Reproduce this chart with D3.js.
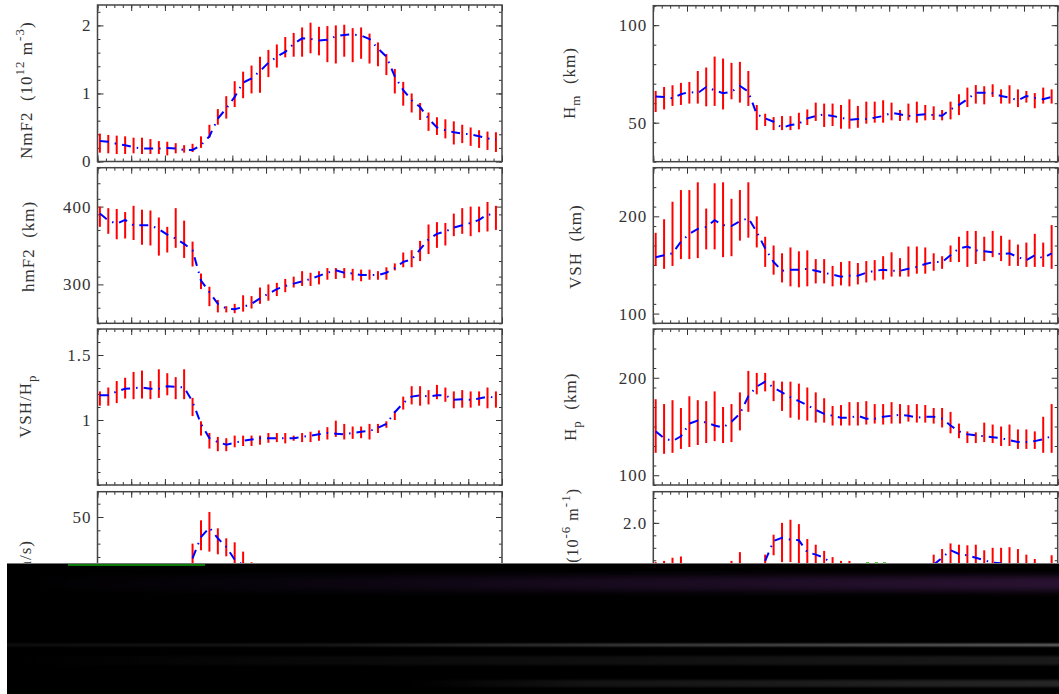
<!DOCTYPE html>
<html>
<head>
<meta charset="utf-8">
<script src="https://cdn.jsdelivr.net/npm/d3@7"></script>
<style>
  html, body { margin: 0; background: #fff; overflow: hidden; }
  text { font-family: "Liberation Serif", serif; fill: #333; letter-spacing: 1px; }
</style>
</head>
<body>
<div id="chart"></div>
<script>
// half hour bins, local time
const hours = d3.range(48).map(function(i) { return 0.14 + 0.5 * i; });

const nmf2Mean = [.30,.29,.26,.24,.21,.19,.19,.19,.20,.19,.17,.17,.24,.37,.63,.78,.95,1.16,1.22,1.33,1.45,1.54,1.61,1.73,1.81,1.80,1.78,1.79,1.84,1.86,1.87,1.85,1.80,1.66,1.54,1.25,1.05,.90,.80,.63,.50,.46,.43,.41,.40,.37,.34,.32];
const nmf2High = [.41,.39,.38,.37,.35,.35,.33,.30,.29,.27,.24,.26,.37,.54,.77,.96,1.18,1.32,1.41,1.54,1.64,1.72,1.83,1.89,1.97,2.04,1.98,1.99,2.00,2.01,1.96,1.97,1.88,1.75,1.58,1.36,1.17,1.00,.86,.72,.65,.62,.59,.54,.50,.46,.44,.43];
const nmf2Low = [.13,.12,.11,.11,.12,.11,.11,.11,.09,.12,.13,.14,.20,.35,.54,.63,.80,.93,1.00,1.01,1.24,1.38,1.53,1.54,1.54,1.59,1.56,1.46,1.44,1.54,1.46,1.51,1.44,1.40,1.27,1.00,.82,.72,.61,.45,.39,.34,.25,.27,.23,.20,.17,.14];

const hmf2Mean = [391,382,378,383,376,376,376,371,364,359,352,344,305,290,275,269,268,271,275,282,288,294,298,301,304,307,311,315,318,315,314,312,312,312,315,321,329,332,345,358,365,368,373,376,379,383,390,389];
const hmf2High = [400,398,397,393,401,396,395,386,374,398,382,355,314,297,280,272,275,286,285,296,300,302,307,310,317,315,317,321,321,321,320,319,319,317,322,327,341,344,356,377,380,379,391,398,400,400,406,401];
const hmf2Low = [374,365,358,359,357,351,350,337,341,347,334,323,294,272,264,264,263,265,269,275,279,285,290,296,298,298,300,306,307,308,305,304,306,306,306,318,322,322,330,339,347,350,362,365,362,367,368,370];

const ratioMean = [1.19,1.19,1.22,1.24,1.245,1.25,1.24,1.24,1.26,1.255,1.25,1.14,.97,.86,.83,.81,.825,.84,.85,.86,.86,.86,.86,.86,.87,.88,.89,.90,.895,.89,.90,.91,.915,.94,.97,1.06,1.13,1.18,1.19,1.18,1.19,1.19,1.155,1.16,1.155,1.165,1.18,1.17];
const ratioHigh = [1.22,1.25,1.30,1.325,1.37,1.38,1.30,1.39,1.36,1.33,1.39,1.17,.99,.90,.87,.86,.88,.88,.88,.88,.90,.90,.90,.88,.90,.91,.92,.945,.995,.97,.95,.95,.97,.97,.99,1.07,1.18,1.26,1.26,1.23,1.27,1.25,1.22,1.23,1.22,1.22,1.25,1.22];
const ratioLow = [1.11,1.11,1.13,1.165,1.16,1.165,1.16,1.17,1.19,1.16,1.16,1.03,.88,.78,.76,.76,.79,.80,.80,.81,.825,.83,.82,.84,.83,.83,.84,.85,.87,.85,.855,.86,.85,.90,.94,1.00,1.08,1.12,1.11,1.12,1.16,1.14,1.09,1.095,1.095,1.11,1.09,1.095];

// only the part above the black strip can be read for these two
const driftBins = [11,12,13,14,15,16,17,18];
const driftMean = [19,35,42,34,27.4,18,14,8];
const driftHigh = [30,47.5,53.8,41.5,34,31,24,16];
const driftLow = [10,25,24,22,20.5,8,4,0];

const hmMean = [63.4,63.2,62.5,64.6,65.8,65.2,68.3,66.6,65.1,65.9,68.8,65.9,54.3,52.2,50.5,47.4,48.8,49.5,52.2,53.4,54.3,53.4,52.6,51.5,51.9,51.9,52.6,53.4,55.1,54.3,53.4,53.9,54.3,53.9,53.6,56.8,59.1,62,65.4,65.4,65.1,63.7,62.8,61.5,63.7,62.8,62,63.2];
const hmHigh = [66.3,68.3,69.2,70.4,70.9,76.5,78.3,83.9,82.9,80.7,81.2,76.5,59.1,54.6,52.9,53.4,53.4,55.1,56.8,60.3,59.8,59.8,59.1,62,58.6,60.8,60.8,61.5,60.3,56.5,59.8,60.8,59.1,58.4,56.5,60.8,64.6,68,69.3,68.7,69.7,67.1,69.2,67.1,66.3,65.2,68,67.1];
const hmLow = [55.5,56.8,58.6,59.1,59.8,59.8,58.4,58.6,56.8,62,60.3,58.6,46.2,48.3,46.2,46.2,46.2,46.6,48.8,50.9,47.8,48.3,46.9,46.9,47.4,49.5,50,50,51.2,50.9,51.2,50,51.2,51.4,51.2,51.7,53.9,58,59.8,59.4,63.2,59.8,59.8,58,60.3,57.4,59.8,59.8];

const vshMean = [158,160,162,174,182,187,189,196,191,190,195,198,184,167,153,144,145,145,146,144,142,140,138,139,139,142,144,145,144,144,146,148,151,153,153,160,167,169,165,164,163,161,162,158,155,160,157,162];
const vshHigh = [183,197,215,227,227,235,208,234,235,218,227,235,200,179,170,162,168,164,165,156,156,149,153,154,152,154,155,159,163,157,169,169,168,162,159,170,179,185,185,179,185,180,176,171,173,182,173,191];
const vshLow = [149,146,149,156,156,157,166,166,158,159,175,178,168,148,140,132,128,127,128,131,131,128,129,128,130,132,134,135,138,138,138,141,141,144,146,153,153,148,151,154,158,154,149,149,148,148,148,146];

const hpMean = [145,138,135,140,153,156,154,151,149,155,163,181,191,196,190,185,180,176,172,167,163,161,159,159,161,158,158,160,161,162,161,159,160,160,158,151,145,142,141,140,139,138,136,134,134,135,137,140];
const hpHigh = [178,173,177,169,181,177,176,186,170,173,185,207,205,205,197,196,196,194,190,185,179,171,172,175,175,176,173,173,175,173,172,173,172,169,169,165,153,145,144,154,152,150,152,147,147,145,160,173];
const hpLow = [123,122,123,127,129,131,133,135,133,134,146,165,183,186,176,166,159,157,156,154,154,151,151,151,151,152,153,152,153,153,155,154,154,153,149,143,138,133,133,134,133,130,130,127,127,127,123,123];

const gradBins = [0,1,2,3,9,10,13,14,15,16,17,18,19,20,21,22,23,33,34,35,36,37,38,39,40,41,42,43,44,45,47];
const gradMean = [null,null,null,null,null,null,1.39,1.71,1.76,1.73,1.72,1.53,1.49,1.44,1.33,null,null,1.33,1.44,1.56,1.50,1.48,1.44,1.40,1.36,1.35,null,null,null,null,null];
const gradHigh = [1.37,1.39,1.44,1.46,1.39,1.53,1.49,1.81,2.0,2.05,1.98,1.74,1.65,1.55,1.45,1.39,1.39,1.49,1.58,1.67,1.65,1.64,1.65,1.56,1.60,1.60,1.61,1.58,1.49,1.42,1.48];
const gradLow = [1.1,1.1,1.1,1.1,1.1,1.1,1.2,1.48,1.37,1.37,1.25,1.2,1.2,1.2,1.1,1.1,1.1,1.1,1.2,1.2,1.2,1.2,1.2,1.2,1.1,1.1,1.1,1.1,1.1,1.1,1.1];

const width = 1059, height = 694;

var svg = d3.select("#chart").append("svg")
    .attr("width", width)
    .attr("height", height);

/* Title pieces: text, baseline shift, font size */
const S = 13, N = 17;
var panels = [
  { col: 0, top: 5, bottom: 161.5, domain: [0, 2.3], major: [0, 1, 2], minor: 0.2, fmt: d3.format("d"),
    mean: nmf2Mean, high: nmf2High, low: nmf2Low,
    titleX: 32, titleY: 159, anchor: "start",
    title: [["NmF2  (10", 0, N], ["12", -8, S], [" m", 8, N], ["-3", -8, S], [")", 8, N]] },
  { col: 0, top: 167.7, bottom: 323.3, domain: [250, 450], major: [300, 400], minor: 20, fmt: d3.format("d"),
    mean: hmf2Mean, high: hmf2High, low: hmf2Low,
    titleX: 34, titleY: 292, anchor: "start",
    title: [["hmF2  (km)", 0, N]] },
  { col: 0, top: 329, bottom: 485, domain: [0.5, 1.7], major: [1, 1.5], minor: 0.1, fmt: d3.format(""),
    mean: ratioMean, high: ratioHigh, low: ratioLow,
    titleX: 31, titleY: 438, anchor: "start",
    title: [["VSH/H", 0, N], ["p", 5, S]] },
  { col: 0, top: 491.7, bottom: 647.5, domain: [-48, 69], major: [0, 50], minor: 10, fmt: d3.format("d"),
    bins: driftBins, mean: driftMean, high: driftHigh, low: driftLow,
    titleX: 31, titleY: 540, anchor: "end",
    title: [["(m/s)", 0, N]] },
  { col: 1, top: 5.7, bottom: 161.7, domain: [30, 110], major: [50, 100], minor: 10, fmt: d3.format("d"),
    mean: hmMean, high: hmHigh, low: hmLow,
    titleX: 575, titleY: 119, anchor: "start",
    title: [["H", 0, N], ["m", 5, S], ["  (km)", -5, N]] },
  { col: 1, top: 167.7, bottom: 323.3, domain: [90, 250], major: [100, 200], minor: 20, fmt: d3.format("d"),
    mean: vshMean, high: vshHigh, low: vshLow,
    titleX: 581, titleY: 289, anchor: "start",
    title: [["VSH  (km)", 0, N]] },
  { col: 1, top: 329, bottom: 485, domain: [90, 250], major: [100, 200], minor: 20, fmt: d3.format("d"),
    mean: hpMean, high: hpHigh, low: hpLow,
    titleX: 576, titleY: 441, anchor: "start",
    title: [["H", 0, N], ["p", 5, S], ["  (km)", -5, N]] },
  { col: 1, top: 491.7, bottom: 647.5, domain: [0, 2.5], major: [0, 1, 2], minor: 0.2, fmt: d3.format(".1f"),
    bins: gradBins, mean: gradMean, high: gradHigh, low: gradLow,
    titleX: 578, titleY: 488, anchor: "end",
    title: [["(10", 0, 16], ["-6", -8, S], [" m", 8, 16], ["-1", -8, S], [")", 8, 16]] }
];

const columns = [[97.5, 502], [653.3, 1057.7]];

panels.forEach(drawPanel);
drawStrip();

function drawPanel(p) {
  var xr = columns[p.col];
  var x = d3.scaleLinear().domain([0, 24]).range(xr);
  var y = d3.scaleLinear().domain(p.domain).range([p.bottom, p.top]);
  var g = svg.append("g");
  var w = xr[1] - xr[0], h = p.bottom - p.top;

  var xMinor = d3.range(0, 24.01, 0.5), xMajor = d3.range(0, 24.01, 2);
  var yMinor = d3.range(p.domain[0], p.domain[1] + 1e-6, p.minor);
  if (p.domain[0] == -48) yMinor = d3.range(-40, 69, 10);

  /* ticks go inwards on all four sides */
  addAxis(g, d3.axisBottom(x).tickValues(xMinor).tickSize(-3), 0, p.bottom);
  addAxis(g, d3.axisBottom(x).tickValues(xMajor).tickSize(-6), 0, p.bottom);
  addAxis(g, d3.axisTop(x).tickValues(xMinor).tickSize(-3), 0, p.top);
  addAxis(g, d3.axisTop(x).tickValues(xMajor).tickSize(-6), 0, p.top);
  addAxis(g, d3.axisLeft(y).tickValues(yMinor).tickSize(-3), xr[0], 0);
  addAxis(g, d3.axisRight(y).tickValues(yMinor).tickSize(-3), xr[1], 0);
  addAxis(g, d3.axisRight(y).tickValues(p.major).tickSize(-6), xr[1], 0);

  var labelled = g.append("g")
      .attr("transform", "translate(" + xr[0] + ",0)")
      .call(d3.axisLeft(y).tickValues(p.major).tickSize(-6).tickPadding(6).tickFormat(p.fmt));
  labelled.select(".domain").remove();
  labelled.selectAll("line").attr("stroke", "#333");
  labelled.selectAll("text")
      .attr("font-family", null)
      .style("font-size", "17px");

  g.append("rect")
      .attr("x", xr[0]).attr("y", p.top)
      .attr("width", w).attr("height", h)
      .attr("fill", "none")
      .attr("stroke", "#444")
      .attr("stroke-width", 1.5);

  var rows = p.mean.map(function(m, i) {
    var bin = p.bins ? p.bins[i] : i;
    return { t: hours[bin], mean: m, high: p.high[i], low: p.low[i] };
  });

  g.append("g").selectAll("line")
      .data(rows)
      .enter().append("line")
      .attr("x1", function(d) { return x(d.t); })
      .attr("x2", function(d) { return x(d.t); })
      .attr("y1", function(d) { return y(d.low); })
      .attr("y2", function(d) { return y(d.high); })
      .attr("stroke", "#f00")
      .attr("stroke-width", 2);

  var line = d3.line()
      .defined(function(d) { return d.mean != null; })
      .x(function(d) { return x(d.t); })
      .y(function(d) { return y(d.mean); });

  g.append("path")
      .attr("d", line(rows))
      .attr("fill", "none")
      .attr("stroke", "#00f")
      .attr("stroke-width", 2)
      .attr("stroke-dasharray", "9,6,1.5,6");

  var title = g.append("text")
      .attr("transform", "translate(" + p.titleX + "," + p.titleY + ") rotate(-90)")
      .attr("text-anchor", p.anchor)
      .attr("xml:space", "preserve");
  title.selectAll("tspan")
      .data(p.title)
      .enter().append("tspan")
      .attr("dy", function(d) { return d[1]; })
      .style("font-size", function(d) { return d[2] + "px"; })
      .style("white-space", "pre")
      .text(function(d) { return d[0]; });
}

function addAxis(g, axis, tx, ty) {
  var a = g.append("g")
      .attr("transform", "translate(" + tx + "," + ty + ")")
      .call(axis.tickFormat(""));
  a.select(".domain").remove();
  a.selectAll("line").attr("stroke", "#333");
}

/* The black strip over the bottom of the picture */
function drawStrip() {
  const stripTop = 563.5;
  var defs = svg.append("defs");
  var bands = [
    { id: "purple", y: 576, h: 15, blur: 3, stops: [[0, "#000"], [0.25, "#08040c"], [0.6, "#190b20"], [1, "#2a1232"]] },
    { id: "streak", y: 644, h: 2, blur: 0.8, stops: [[0, "#141414"], [0.3, "#222"], [0.6, "#555"], [1, "#8a8a8a"]] },
    { id: "band2", y: 656, h: 9, blur: 1.2, stops: [[0, "#000"], [0.3, "#090909"], [1, "#1a1a1a"]] },
    { id: "band3", y: 680, h: 7, blur: 1.2, stops: [[0, "#000"], [0.38, "#000"], [0.55, "#131313"], [1, "#262626"]] }
  ];

  svg.append("rect")
      .attr("x", 7).attr("y", stripTop)
      .attr("width", width - 7).attr("height", height - stripTop)
      .attr("fill", "#000");
  svg.append("rect")
      .attr("x", 7).attr("y", stripTop - 0.5)
      .attr("width", width - 7).attr("height", 1)
      .attr("fill", "#777");

  bands.forEach(function(b) {
    var grad = defs.append("linearGradient").attr("id", b.id);
    b.stops.forEach(function(s) {
      grad.append("stop").attr("offset", s[0]).attr("stop-color", s[1]);
    });
    var blur = defs.append("filter").attr("id", b.id + "Blur")
        .attr("color-interpolation-filters", "sRGB")
        .attr("x", "0").attr("width", "1")
        .attr("y", "-200%").attr("height", "500%");
    blur.append("feGaussianBlur").attr("stdDeviation", "0 " + b.blur);
    svg.append("rect")
        .attr("x", 7).attr("y", b.y)
        .attr("width", width - 7).attr("height", b.h)
        .attr("fill", "url(#" + b.id + ")")
        .attr("filter", "url(#" + b.id + "Blur)");
  });

  svg.append("rect")
      .attr("x", 68).attr("y", 564)
      .attr("width", 137).attr("height", 2)
      .attr("fill", "#0a7a0a");

  svg.selectAll("rect.speck")
      .data([866, 875, 883])
      .enter().append("rect")
      .attr("class", "speck")
      .attr("x", function(d) { return d; })
      .attr("y", 562)
      .attr("width", 3).attr("height", 1.5)
      .attr("fill", "#5fc24a");
}
</script>
</body>
</html>
